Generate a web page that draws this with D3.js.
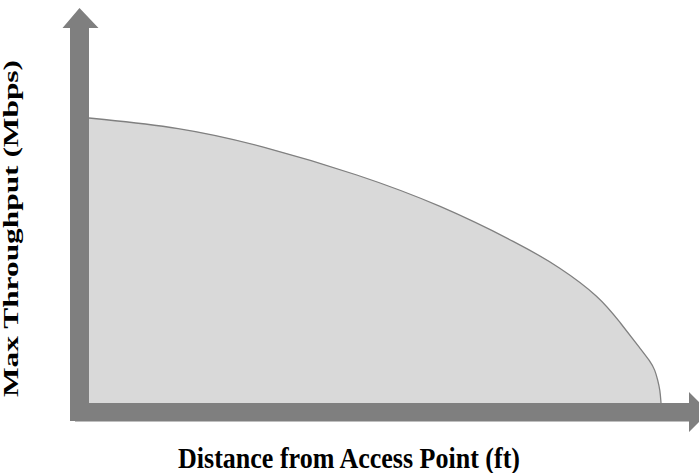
<!DOCTYPE html>
<html>
<head>
<meta charset="utf-8">
<script src="https://cdn.jsdelivr.net/npm/d3@7"></script>
<style>
  html, body { margin: 0; padding: 0; background: #fff; }
  svg { display: block; }
  text { font-family: "Liberation Serif", "Times New Roman", serif; font-weight: bold; fill: #000; }
</style>
</head>
<body>
<svg id="chart" width="699" height="473"></svg>
<script>
// (distance as % of max range, throughput as % of max)
const distance = [0, 15.9, 29.9, 47.4, 61.4, 75.3, 82.3, 89.3, 92.8, 96.3, 98.1, 98.95, 99.42, 99.83, 100]
const throughput = [100, 96.8, 90.5, 80, 69.5, 55.8, 47.7, 37.2, 28.4, 19.3, 14.7, 11.6, 8.1, 4.6, 0]
const xLabel = 'Distance from Access Point (ft)'
const yLabel = 'Max Throughput (Mbps)'

const fixedValues = {
  axisWidth: 19,
  axisColor: '#7f7f7f',
  fill: '#d9d9d9',
  stroke: '#808080',
}

const svg = d3.select('#chart')
const x = d3.scaleLinear().domain([0, 100]).range([89, 661])
const y = d3.scaleLinear().domain([0, 100]).range([403, 118])

const points = distance.map((d, i) => ({ d, t: throughput[i] }))
const curve = d3.curveBasis

// filled region under the curve
svg.append('path').datum(points).attr('d', d3.area()
  .x(p => x(p.d)).y0(y(0)).y1(p => y(p.t))
  .curve(curve))
  .attr('fill', fixedValues.fill)

svg.append('path').datum(points).attr('d', d3.line()
  .x(p => x(p.d)).y(p => y(p.t))
  .curve(curve))
  .attr('fill', 'none')
  .attr('stroke', fixedValues.stroke)
  .attr('stroke-width', 1.3)

// axes as thick arrows
const x0 = x(0)
const y0 = y(0)
const w = fixedValues.axisWidth
const axisG = svg.append('g').attr('fill', fixedValues.axisColor)

axisG.append('path').attr('d', d3.line()([
  [x0 - w, y0 + w - 1], [x0 - w, 28], [x0 - w - 7.5, 28], [x0 - w / 2, 8],
  [x0 + 9.5, 28], [x0, 28], [x0, y0 + w - 1],
]))
axisG.append('path').attr('d', d3.line()([
  [x0 - w + 5, y0], [689, y0], [689, y0 - 11], [709, y0 + 9],
  [689, y0 + 29], [689, y0 + w - 0.5], [x0 - w + 5, y0 + w - 0.5],
]))

svg.append('text')
  .attr('x', 349).attr('y', 468)
  .attr('text-anchor', 'middle')
  .attr('font-size', 30)
  .attr('textLength', 342).attr('lengthAdjust', 'spacingAndGlyphs')
  .text(xLabel)

svg.append('text')
  .attr('transform', 'translate(18, 228.5) rotate(-90)')
  .attr('text-anchor', 'middle')
  .attr('font-size', 21)
  .attr('textLength', 337).attr('lengthAdjust', 'spacingAndGlyphs')
  .text(yLabel)
</script>
</body>
</html>
